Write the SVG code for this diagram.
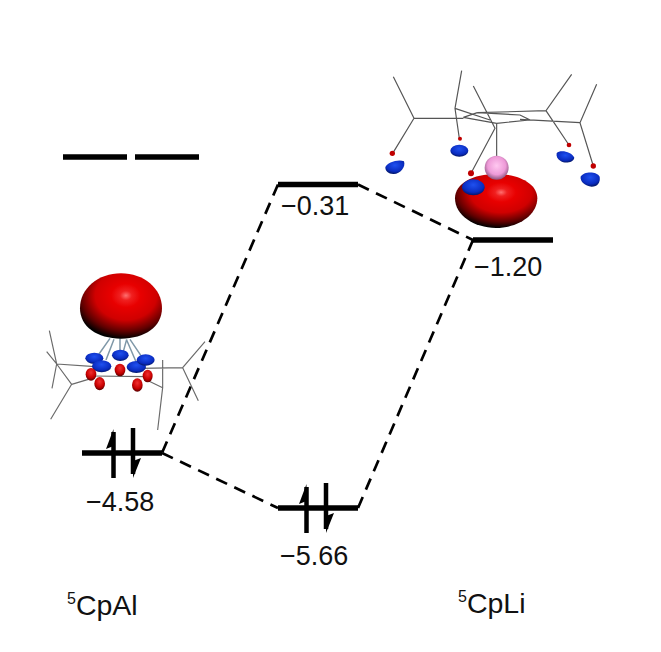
<svg xmlns="http://www.w3.org/2000/svg" width="661" height="652" viewBox="0 0 661 652">
<style>
.lv{stroke:#000;stroke-width:5.500;fill:none}
.ar{stroke:#000;stroke-width:4.500;fill:none}
.dash{stroke:#000;stroke-width:2.700;stroke-dasharray:12 8;fill:none}
.t{font-family:"Liberation Sans",Arial,sans-serif;font-size:27px;fill:#111}
.lb{font-size:28.500px}
.m1{stroke:#6a6a6a;stroke-width:3.500;fill:none}
.m2{stroke:#555;stroke-width:3.500;fill:none}
.cone{stroke:#7f98a8;stroke-width:4.500;fill:none}
</style>
<defs>
<radialGradient id="red" cx="0.56" cy="0.34" r="0.72">
<stop offset="0" stop-color="#ff7070"/><stop offset="0.1" stop-color="#f02020"/><stop offset="0.25" stop-color="#e80000"/><stop offset="0.52" stop-color="#d00000"/><stop offset="0.76" stop-color="#600000"/><stop offset="0.92" stop-color="#000"/>
</radialGradient>
<radialGradient id="blue" cx="0.5" cy="0.35" r="0.7">
<stop offset="0" stop-color="#1f50f0"/><stop offset="0.65" stop-color="#0a2cc0"/><stop offset="1" stop-color="#001050"/>
</radialGradient>
<radialGradient id="redSm" cx="0.5" cy="0.35" r="0.7">
<stop offset="0" stop-color="#f03030"/><stop offset="0.6" stop-color="#c80000"/><stop offset="1" stop-color="#400000"/>
</radialGradient>
<radialGradient id="pink" cx="0.5" cy="0.42" r="0.62">
<stop offset="0" stop-color="#ffc8f0"/><stop offset="0.6" stop-color="#ee9ad8"/><stop offset="1" stop-color="#7a4a70"/>
</radialGradient>
</defs>
<g id="connectors">
<path class="dash" d="M358 184.500L473 240"/>
<path class="dash" d="M278 184.500L162 453"/>
<path class="dash" d="M162 453L278 508"/>
<path class="dash" d="M358 508L473 240"/>
</g>
<g id="molecule-cpal" transform="translate(30 260) scale(0.3333)">
<path class="m1" d="M58 212L80 312M50 275L80 312M80 312L66 385M80 312L125 373M80 312L195 320M125 373L62 478M125 373L185 355M185 348L350 350M398 300L398 383L383 510M350 360L398 383M330 325L458 323L525 245M458 323L505 422"/>
<path class="cone" d="M240 235L205 285M252 238L228 300M270 235L270 275M290 238L280 275M300 238L335 290M290 240L320 310"/>
<path d="M150 145C150 85 205 40 273 40C341 40 396 85 396 145C396 200 345 236 273 236C201 236 150 200 150 145Z" fill="url(#red)"/>
<g fill="url(#blue)"><ellipse cx="193" cy="295" rx="27" ry="17"/><ellipse cx="215" cy="319" rx="29" ry="18"/><ellipse cx="271" cy="286" rx="25" ry="17"/><ellipse cx="319" cy="321" rx="29" ry="18"/><ellipse cx="347" cy="300" rx="27" ry="17"/></g>
<g fill="url(#redSm)"><ellipse cx="183" cy="343" rx="16" ry="19"/><ellipse cx="209" cy="371" rx="16" ry="20"/><ellipse cx="270" cy="330" rx="16" ry="19"/><ellipse cx="322" cy="375" rx="16" ry="20"/><ellipse cx="353" cy="348" rx="15" ry="19"/></g>
</g>
<g id="molecule-cpli" transform="translate(370 60) scale(0.3333)">
<path class="m2" d="M70 50L132 175L68 280M132 175L280 175M275 32L255 145L268 235M255 145L360 180M310 78L375 205L303 340M380 188L380 295M605 43L528 152L597 255M680 73L630 188L670 318M630 188L450 178M322 158L528 152M280 172L322 158M280 172L380 190L480 180L450 165L322 158"/>
<circle cx="67" cy="280" r="8" fill="#c00000"/><circle cx="270" cy="236" r="6" fill="#c00000"/><circle cx="597" cy="255" r="7" fill="#c00000"/><circle cx="670" cy="318" r="8" fill="#c00000"/><circle cx="303" cy="340" r="9" fill="#c00000"/>
<path d="M255 415C255 370 310 342 378 342C446 342 502 370 502 415C502 465 445 504 378 504C311 504 255 465 255 415Z" fill="url(#red)"/>
<circle cx="380" cy="323" r="36" fill="url(#pink)"/>
<g fill="url(#blue)"><path d="M46 322C50 308 85 296 102 304C108 322 90 343 70 342C55 342 46 334 46 322Z"/><ellipse cx="268" cy="272" rx="27" ry="18"/><path d="M560 280C570 268 605 275 613 293C610 308 585 312 572 303C563 298 558 290 560 280Z"/><path d="M632 350C640 334 680 332 689 350C692 368 682 380 665 380C645 378 630 365 632 350Z"/><ellipse cx="310" cy="382" rx="34" ry="24"/></g>
</g>
<g id="level-top-left"><path class="lv" d="M63 157H127M135 157H199"/></g>
<g id="level-cpli-lumo"><path class="lv" d="M473 240H553"/><text class="t" x="474" y="276">−1.20</text></g>
<g id="level-mid-lumo"><path class="lv" d="M278 184.500H358"/><text class="t" x="281" y="215">−0.31</text></g>
<g id="level-cpal-homo"><path class="lv" d="M82 453H162"/>
<path class="ar" d="M113.500 478V432M133 428V474"/><path d="M113.500 429L106 449L113.500 446ZM133 478L141 458L133 461Z"/>
<text class="t" x="86" y="511">−4.58</text></g>
<g id="level-mid-homo"><path class="lv" d="M278 508H358"/>
<path class="ar" d="M306.500 533V487M326 483V529"/><path d="M306.500 484L299 504L306.500 501ZM326 533L334 513L326 516Z"/>
<text class="t" x="280" y="565">−5.66</text></g>
<g id="label-cpal"><text class="t lb" x="67" y="615"><tspan font-size="16" dy="-11">5</tspan><tspan dy="11">CpAl</tspan></text></g>
<g id="label-cpli"><text class="t lb" x="458" y="613"><tspan font-size="16" dy="-11">5</tspan><tspan dy="11">CpLi</tspan></text></g>
</svg>
